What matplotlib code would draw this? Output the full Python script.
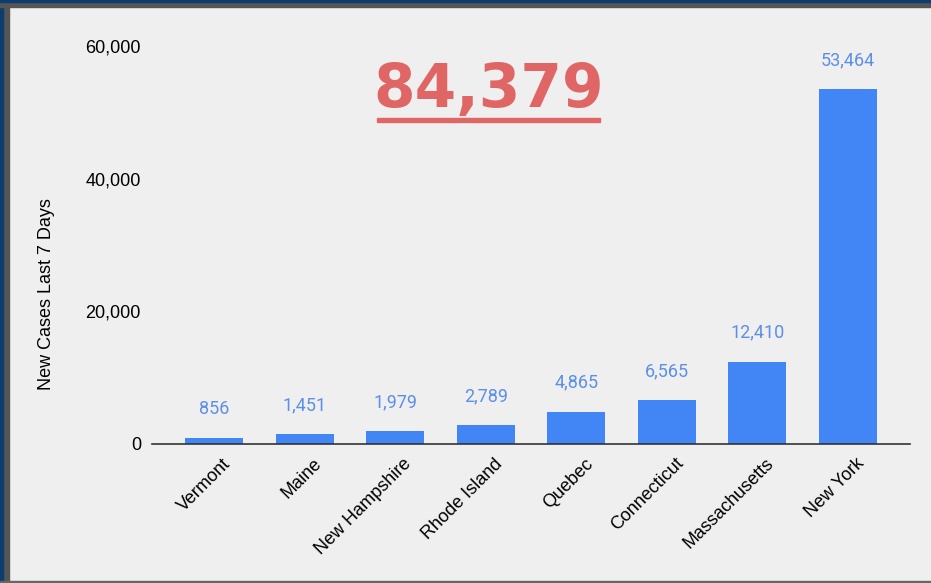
import matplotlib.pyplot as plt
import matplotlib.transforms as mtransforms
from matplotlib.patches import Rectangle

# Data
regions = ['Vermont', 'Maine', 'New Hampshire', 'Rhode Island', 'Quebec',
           'Connecticut', 'Massachusetts', 'New York']
new_cases = [856, 1451, 1979, 2789, 4865, 6565, 12410, 53464]
total_label = '84,379'
y_ticks = [0, 20000, 40000, 60000]

bg = '#efefef'
bar_color = '#4285f4'
label_color = '#5b8fe8'

fig = plt.figure(figsize=(9.31, 5.83), dpi=100, facecolor=bg)
ax = fig.add_axes([152/931, 1 - 444/583, (910-152)/931, (444-46)/583])
ax.set_facecolor(bg)

x = range(len(regions))
ax.bar(x, new_cases, width=0.64, color=bar_color, zorder=2)

for i, v in enumerate(new_cases):
    ax.annotate(f'{v:,}', (i, v), xytext=(0, 29), textcoords='offset pixels',
                ha='center', va='center', color=label_color, fontsize=13, family='Roboto')

ax.set_xlim(-0.685, len(regions) - 1 + 0.685)
ax.set_ylim(0, 60000)
ax.set_yticks(y_ticks)
ax.set_yticklabels([f'{t:,}' for t in y_ticks], fontsize=13, family='Liberation Sans')
ax.set_xticks(list(x))
ax.set_xticklabels(regions, rotation=45, ha='right', va='top', rotation_mode='anchor',
                   fontsize=13, family='Liberation Sans')
ax.tick_params(length=0)
ax.tick_params(axis='y', pad=8)
ax.tick_params(axis='x', pad=8)
# nudge rotated labels a little right, like the original
shift = mtransforms.ScaledTranslation(8/100, 0, fig.dpi_scale_trans)
for lbl in ax.get_xticklabels():
    lbl.set_transform(lbl.get_transform() + shift)
for s in ['top', 'right', 'left']:
    ax.spines[s].set_visible(False)
ax.spines['bottom'].set_color('#333333')
ax.spines['bottom'].set_linewidth(1.2)
ax.spines['bottom'].set_zorder(3)

fig.text(47/931, 1 - 294/583, 'New Cases Last 7 Days', rotation=90, ha='center', va='center',
         fontsize=13, family='Liberation Sans')

# big total, underlined
fig.text(489/931, 1 - 91/583, total_label, ha='center', va='center', fontsize=43,
         fontweight='bold', family='DejaVu Sans', color='#e06666')
fig.add_artist(Rectangle((377/931, 1 - 122/583), (600-377)/931, 4/583,
                         transform=fig.transFigure, color='#e06666'))

# frame around the screenshot
fig.add_artist(Rectangle((0, 0), 9/931, 1, transform=fig.transFigure, color='#555555'))
fig.add_artist(Rectangle((0, 0), 3/931, 1, transform=fig.transFigure, color='#0b3d6e'))
fig.add_artist(Rectangle((0, 1 - 7/583), 1, 7/583, transform=fig.transFigure, color='#555555'))
fig.add_artist(Rectangle((0, 1 - 2/583), 1, 2/583, transform=fig.transFigure, color='#0b3d6e'))
fig.add_artist(Rectangle((0, 0), 1, 2.5/583, transform=fig.transFigure, color='#666666'))

fig.savefig('out.png', dpi=100, facecolor=bg)
